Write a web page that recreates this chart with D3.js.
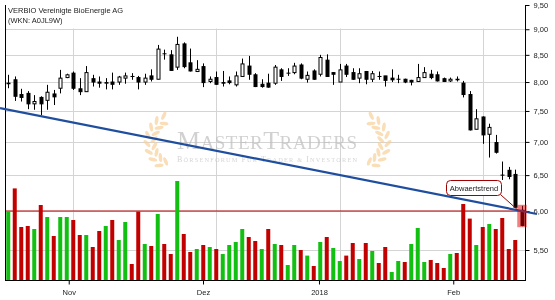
<!DOCTYPE html>
<html>
<head>
<meta charset="utf-8">
<script src="https://cdn.jsdelivr.net/npm/d3@7"></script>
<style>
  body { margin: 0; background: #fff; }
  svg { display: block; }
  text { font-family: "Liberation Sans", Arial, sans-serif; }
</style>
</head>
<body>
<svg id="canvas" width="555" height="300"></svg>
<script>
let title = ['VERBIO Vereinigte BioEnergie AG', '(WKN: A0JL9W)']

let dates = [
  '2017-10-18','2017-10-19','2017-10-20','2017-10-23','2017-10-24','2017-10-25','2017-10-26','2017-10-27','2017-10-30','2017-10-31',
  '2017-11-01','2017-11-02','2017-11-03','2017-11-06','2017-11-07','2017-11-08','2017-11-09','2017-11-10','2017-11-13','2017-11-14',
  '2017-11-15','2017-11-16','2017-11-17','2017-11-20','2017-11-21','2017-11-22','2017-11-23','2017-11-24','2017-11-27','2017-11-28',
  '2017-11-29','2017-11-30','2017-12-01','2017-12-04','2017-12-05','2017-12-06','2017-12-07','2017-12-08','2017-12-11','2017-12-12',
  '2017-12-13','2017-12-14','2017-12-15','2017-12-18','2017-12-19','2017-12-20','2017-12-21','2017-12-22','2017-12-27','2017-12-28',
  '2017-12-29','2018-01-02','2018-01-03','2018-01-04','2018-01-05','2018-01-08','2018-01-09','2018-01-10','2018-01-11','2018-01-12',
  '2018-01-15','2018-01-16','2018-01-17','2018-01-18','2018-01-19','2018-01-22','2018-01-23','2018-01-24','2018-01-25','2018-01-26',
  '2018-01-29','2018-01-30','2018-01-31','2018-02-01','2018-02-02','2018-02-05','2018-02-06','2018-02-07','2018-02-08','2018-02-09'
]

let opens = [
  7.97, 8.04, 7.78, 7.80, 7.62, 7.73, 7.68, 7.79, 7.89, 8.08,
  8.16, 7.88, 7.83, 8.06, 8.00, 7.98, 8.00, 8.00, 8.07, 8.10,
  8.08, 8.00, 8.11, 8.05, 8.52, 8.50, 8.27, 8.71, 8.35, 8.19,
  8.28, 8.01, 8.08, 7.99, 8.02, 7.95, 8.10, 8.29, 8.13, 7.96,
  7.98, 7.98, 8.22, 8.16, 8.17, 8.31, 8.05, 8.20, 8.14, 8.40,
  8.17, 8.00, 8.29, 8.17, 8.07, 8.19, 8.05, 8.10, 8.11, 8.07,
  8.05, 8.05, 8.03, 8.01, 8.08, 8.14, 8.13, 8.06, 8.02, 8.05,
  7.98, 7.78, 7.20, 7.40, 7.12, 6.99, 6.50, 6.57, 6.51, 6.01
]

let highs = [
  8.13, 8.10, 7.88, 7.84, 7.77, 7.75, 7.95, 7.86, 8.22, 8.15,
  8.19, 8.07, 8.29, 8.13, 8.10, 8.07, 8.17, 8.11, 8.17, 8.16,
  8.11, 8.15, 8.23, 8.69, 8.60, 8.59, 8.85, 8.74, 8.62, 8.40,
  8.34, 8.10, 8.19, 8.20, 8.10, 8.19, 8.43, 8.48, 8.16, 8.05,
  8.15, 8.31, 8.25, 8.25, 8.35, 8.34, 8.19, 8.23, 8.50, 8.51,
  8.18, 8.33, 8.33, 8.25, 8.25, 8.20, 8.20, 8.19, 8.11, 8.23,
  8.13, 8.06, 8.04, 8.33, 8.27, 8.22, 8.19, 8.08, 8.08, 8.10,
  8.02, 7.84, 7.53, 7.41, 7.29, 7.11, 6.70, 6.62, 6.58, 6.07
]

let lows = [
  7.89, 7.67, 7.66, 7.53, 7.52, 7.43, 7.52, 7.60, 7.80, 8.07,
  7.86, 7.77, 7.83, 7.92, 7.90, 7.87, 7.87, 7.95, 7.97, 8.04,
  7.87, 7.95, 8.01, 8.05, 8.41, 8.21, 8.22, 8.25, 8.19, 8.18,
  7.91, 7.98, 7.95, 7.92, 7.96, 7.92, 8.10, 8.04, 7.91, 7.90,
  7.90, 7.95, 8.02, 8.11, 8.14, 8.05, 7.99, 8.04, 8.10, 8.10,
  7.95, 8.00, 8.09, 8.04, 7.98, 7.96, 8.00, 8.04, 7.92, 8.00,
  7.98, 7.98, 7.94, 8.00, 8.08, 8.05, 8.01, 8.00, 8.00, 8.01,
  7.73, 7.18, 7.20, 6.97, 6.76, 6.82, 6.43, 6.44, 6.04, 5.80
]

let closes = [
  7.98, 7.75, 7.73, 7.62, 7.66, 7.62, 7.82, 7.74, 8.07, 8.13,
  7.89, 7.83, 8.17, 8.00, 7.98, 7.99, 7.96, 8.09, 8.11, 8.10,
  8.00, 8.07, 8.05, 8.61, 8.52, 8.21, 8.70, 8.28, 8.20, 8.23,
  7.99, 8.05, 7.96, 7.98, 7.99, 8.11, 8.33, 8.14, 7.92, 7.92,
  7.91, 8.27, 8.10, 8.16, 8.29, 8.07, 8.12, 8.05, 8.45, 8.10,
  8.14, 8.22, 8.14, 8.05, 8.15, 8.05, 8.15, 8.10, 8.03, 8.04,
  8.05, 8.00, 8.00, 8.08, 8.17, 8.08, 8.02, 8.01, 8.05, 8.04,
  7.78, 7.19, 7.37, 7.11, 7.23, 6.84, 6.50, 6.48, 6.05, 5.81
]

// volume in thousand shares, last day has none yet
let volumes = [
  342, 458, 265, 270, 255, 375, 315, 220, 315, 315,
  300, 225, 225, 165, 245, 270, 300, 200, 290, 80,
  342, 180, 170, 330, 180, 130, 495, 230, 140, 155,
  175, 165, 155, 130, 175, 190, 255, 215, 195, 155,
  255, 180, 175, 75, 175, 150, 122, 70, 190, 215,
  160, 95, 122, 185, 105, 185, 145, 85, 165, 40,
  95, 90, 180, 260, 90, 100, 85, 60, 130, 135,
  380, 307, 175, 265, 280, 255, 310, 155, 200, null
]

let priceTicks = [5.5, 6.0, 6.5, 7.0, 7.5, 8.0, 8.5, 9.0, 9.5]
let monthTicks = ['2017-11-01', '2017-12-01', '2018-01-02', '2018-02-01']
let monthLabels = ['Nov', 'Dez', '2018', 'Feb']

let supportLevel = 6.0
let trendDates = ['2017-10-18', '2018-02-09']
let trendPrices = [7.52, 6.00]
let annotation = 'Abwaertstrend'

let canvas = d3.select('#canvas')

let plotLeft = 5
let plotRight = 525
let plotTop = 5
let plotBottom = 280

let xScale = d3.scaleBand().domain(dates).range([plotLeft, plotRight])
// the source chart places its date labels on a slightly squeezed scale
let xLabelScale = d3.scaleBand().domain(dates).range([plotLeft * 0.939 + 0.45, plotRight * 0.939 + 0.45])
let yScale = d3.scaleLog().domain([5.5, 9.5]).range([250, plotTop])
let volumeScale = d3.scaleLinear().domain([0, 500]).range([plotBottom, 180])

let cx = (d) => xScale(d) + xScale.bandwidth() / 2

let days = dates.map((d, i) => {
  return {
    date: d,
    open: opens[i],
    high: highs[i],
    low: lows[i],
    close: closes[i],
    volume: volumes[i],
    up: i === 0 ? true : closes[i] >= closes[i - 1]
  }
})

// grid
canvas.append('g')
      .selectAll('line')
      .data(priceTicks)
      .enter()
      .append('line')
      .attr('x1', plotLeft)
      .attr('x2', plotRight)
      .attr('y1', (p) => Math.round(yScale(p)) + 0.5)
      .attr('y2', (p) => Math.round(yScale(p)) + 0.5)
      .attr('stroke', '#d4d4d4')

canvas.append('g')
      .selectAll('line')
      .data(monthTicks)
      .enter()
      .append('line')
      .attr('x1', (d) => Math.round(cx(d)) + 0.5)
      .attr('x2', (d) => Math.round(cx(d)) + 0.5)
      .attr('y1', plotTop)
      .attr('y2', plotBottom)
      .attr('stroke', '#d4d4d4')

// watermark
let mark = canvas.append('g').attr('opacity', 0.7)

let drawWreath = (centerX, side) => {
  let leaves = []
  for (let k = 0; k < 8; k++) {
    let a = (118 + k * 17) * Math.PI / 180
    leaves.push({ a: a, r: 22, tilt: 40 })
    leaves.push({ a: a + 0.14, r: 29, tilt: -40 })
  }
  mark.append('g')
      .selectAll('ellipse')
      .data(leaves)
      .enter()
      .append('ellipse')
      .attr('rx', 4.5)
      .attr('ry', 1.8)
      .attr('fill', '#f6d09a')
      .attr('transform', (l) => {
        let px = centerX + side * l.r * Math.cos(l.a)
        let py = 142 + l.r * Math.sin(l.a)
        let deg = side * (l.a * 180 / Math.PI + 90 + l.tilt)
        return 'translate(' + px + ',' + py + ') rotate(' + deg + ')'
      })
}
drawWreath(176, 1)
drawWreath(359, -1)

let logo = mark.append('text')
               .attr('x', 177)
               .attr('y', 149)
               .attr('textLength', 180)
               .attr('fill', '#bdbdbd')
               .style('font-family', '"Liberation Serif", "DejaVu Serif", serif')
logo.append('tspan').attr('font-size', 26).text('M')
logo.append('tspan').attr('font-size', 19).text('ASTER')
logo.append('tspan').attr('font-size', 26).text('T')
logo.append('tspan').attr('font-size', 19).text('RADERS')

let slogan = mark.append('text')
                 .attr('x', 177)
                 .attr('y', 162)
                 .attr('textLength', 180)
                 .attr('fill', '#c4c4c4')
                 .style('font-family', '"Liberation Serif", "DejaVu Serif", serif')
slogan.append('tspan').attr('font-size', 8).text('B')
slogan.append('tspan').attr('font-size', 6.3).text('ÖRSENFORUM ')
slogan.append('tspan').attr('font-size', 8).text('F')
slogan.append('tspan').attr('font-size', 6.3).text('ÜR ')
slogan.append('tspan').attr('font-size', 8).text('T')
slogan.append('tspan').attr('font-size', 6.3).text('RADER & ')
slogan.append('tspan').attr('font-size', 8).text('I')
slogan.append('tspan').attr('font-size', 6.3).text('NVESTOREN')

// support level
canvas.append('line')
      .attr('x1', plotLeft)
      .attr('x2', plotRight)
      .attr('y1', yScale(supportLevel))
      .attr('y2', yScale(supportLevel))
      .attr('stroke', '#a80000')
      .attr('stroke-width', 1.2)

// volume
canvas.append('g')
      .selectAll('rect')
      .data(days.filter((d) => d.volume !== null))
      .enter()
      .append('rect')
      .attr('x', (d) => cx(d.date) - 2)
      .attr('y', (d) => volumeScale(d.volume))
      .attr('width', 4)
      .attr('height', (d) => plotBottom - volumeScale(d.volume))
      .attr('fill', (d) => d.up ? '#12c012' : '#c20000')

// candles
let candle = canvas.append('g')
                   .selectAll('g')
                   .data(days)
                   .enter()
                   .append('g')

candle.append('line')
      .attr('x1', (d) => Math.round(cx(d.date)) + 0.5)
      .attr('x2', (d) => Math.round(cx(d.date)) + 0.5)
      .attr('y1', (d) => yScale(d.high))
      .attr('y2', (d) => yScale(d.low))
      .attr('stroke', '#000')

candle.append('rect')
      .attr('x', (d) => Math.round(cx(d.date)) - 1)
      .attr('y', (d) => yScale(Math.max(d.open, d.close)))
      .attr('width', 3)
      .attr('height', (d) => Math.max(0.01, yScale(Math.min(d.open, d.close)) - yScale(Math.max(d.open, d.close))))
      .attr('fill', (d) => d.close > d.open ? '#fff' : '#000')
      .attr('stroke', '#000')
      .attr('stroke-width', 1)

// axes
canvas.append('line')
      .attr('x1', plotLeft + 0.5).attr('x2', plotLeft + 0.5)
      .attr('y1', plotTop).attr('y2', plotBottom)
      .attr('stroke', '#000')

canvas.append('line')
      .attr('x1', plotRight + 0.5).attr('x2', plotRight + 0.5)
      .attr('y1', plotTop).attr('y2', plotBottom + 0.5)
      .attr('stroke', '#000')

canvas.append('line')
      .attr('x1', plotLeft).attr('x2', plotRight + 1)
      .attr('y1', plotBottom + 0.5).attr('y2', plotBottom + 0.5)
      .attr('stroke', '#000')

let yAxis = d3.axisRight(yScale)
              .tickValues(priceTicks)
              .tickSize(4)
              .tickPadding(4)
              .tickFormat((p) => p.toFixed(2).replace('.', ','))

canvas.append('g')
      .attr('transform', 'translate(' + (plotRight + 0.5) + ',0)')
      .call(yAxis)
      .call((g) => g.select('.domain').remove())
      .call((g) => g.selectAll('text').attr('font-size', 7.5).attr('fill', '#222').style('font-family', '"Liberation Sans", Arial, sans-serif'))

let xAxis = d3.axisBottom(xLabelScale)
              .tickValues(monthTicks)
              .tickSize(4)
              .tickPadding(5)
              .tickFormat((d, i) => monthLabels[i])

canvas.append('g')
      .attr('transform', 'translate(0,' + (plotBottom + 0.5) + ')')
      .call(xAxis)
      .call((g) => g.select('.domain').remove())
      .call((g) => g.selectAll('text').attr('font-size', 7.5).attr('fill', '#222').style('font-family', '"Liberation Sans", Arial, sans-serif'))

// trend line, extended a bit past both ends
let t0 = { x: cx(trendDates[0]), y: yScale(trendPrices[0]) }
let t1 = { x: cx(trendDates[1]), y: yScale(trendPrices[1]) }
let slope = (t1.y - t0.y) / (t1.x - t0.x)
canvas.append('line')
      .attr('x1', 0)
      .attr('y1', t0.y - slope * t0.x)
      .attr('x2', 537)
      .attr('y2', t0.y + slope * (537 - t0.x))
      .attr('stroke', '#1f4e9e')
      .attr('stroke-width', 2.2)

// title
canvas.append('rect')
      .attr('x', plotLeft + 1)
      .attr('y', 0)
      .attr('width', plotRight - plotLeft - 1)
      .attr('height', 28.5)
      .attr('fill', '#fff')

canvas.append('g')
      .selectAll('text')
      .data(title)
      .enter()
      .append('text')
      .attr('x', 8)
      .attr('y', (t, i) => 13 + i * 10)
      .attr('font-size', 7.5)
      .attr('fill', '#222')
      .text((t) => t)

// annotation
let lastDay = days[days.length - 1]
let lastX = cx(lastDay.date)

canvas.append('line')
      .attr('x1', 501)
      .attr('y1', 195)
      .attr('x2', lastX - 4)
      .attr('y2', yScale(supportLevel) - 1)
      .attr('stroke', '#a00000')
      .attr('stroke-width', 1)

canvas.append('rect')
      .attr('x', 446.5)
      .attr('y', 180.5)
      .attr('width', 55)
      .attr('height', 15)
      .attr('rx', 4)
      .attr('fill', '#fff')
      .attr('stroke', '#a00000')
      .attr('stroke-width', 1)

canvas.append('text')
      .attr('x', 474)
      .attr('y', 191)
      .attr('text-anchor', 'middle')
      .attr('font-size', 7.5)
      .attr('fill', '#222')
      .text(annotation)

canvas.append('rect')
      .attr('x', lastX - 4.5)
      .attr('y', yScale(lastDay.high) - 1)
      .attr('width', 9.5)
      .attr('height', yScale(lastDay.low) - yScale(lastDay.high) + 2)
      .attr('fill', '#e50000')
      .attr('opacity', 0.5)
</script>
</body>
</html>
